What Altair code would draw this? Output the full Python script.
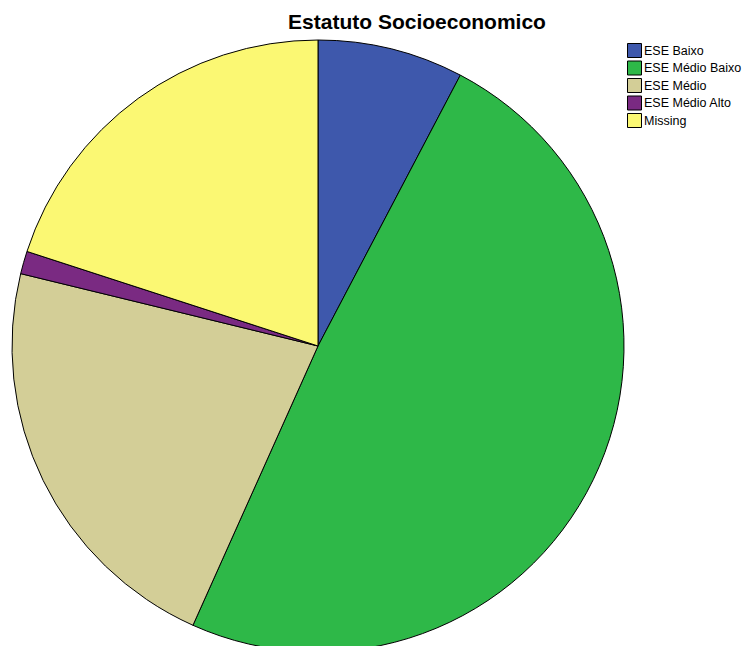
import altair as alt
import pandas as pd

categories = ["ESE Baixo", "ESE Médio Baixo", "ESE Médio", "ESE Médio Alto", "Missing"]
percentages = [7.7, 49.0, 22.1, 1.2, 20.0]
colors = ["#3E58AC", "#2EB848", "#D3CE97", "#7A2A82", "#FBF873"]
title_text = "Estatuto Socioeconomico"

df = pd.DataFrame({
    "cat": categories,
    "pct": percentages,
    "idx": list(range(len(categories))),
})

pie = alt.Chart(df).mark_arc(
    outerRadius=306, stroke="black", strokeWidth=1
).encode(
    theta=alt.Theta("pct:Q", stack=True),
    order=alt.Order("idx:Q"),
    color=alt.Color(
        "cat:N",
        scale=alt.Scale(domain=categories, range=colors),
        sort=categories,
        legend=alt.Legend(
            title=None,
            orient="none",
            legendX=619,
            legendY=35,
            symbolType="square",
            symbolSize=196,
            symbolStrokeColor="black",
            symbolStrokeWidth=1,
            symbolOpacity=1,
            labelFontSize=12.5,
            labelFont="Liberation Sans",
            labelColor="black",
            labelLimit=200,
            rowPadding=-1.5,
            labelOffset=2,
        ),
    ),
    x=alt.value(310),
    y=alt.value(338),
)

title = alt.Chart(pd.DataFrame({"t": [title_text]})).mark_text(
    font="Liberation Sans", fontSize=21, fontWeight="bold", color="black",
    align="center", baseline="middle"
).encode(text="t:N", x=alt.value(409), y=alt.value(15))

chart = alt.layer(pie, title).properties(
    width=736, height=638,
    autosize=alt.AutoSizeParams(type="none"),
    padding=0,
).configure_view(stroke=None)

chart.save("out.html", embed_options={"renderer": "svg", "actions": False})
